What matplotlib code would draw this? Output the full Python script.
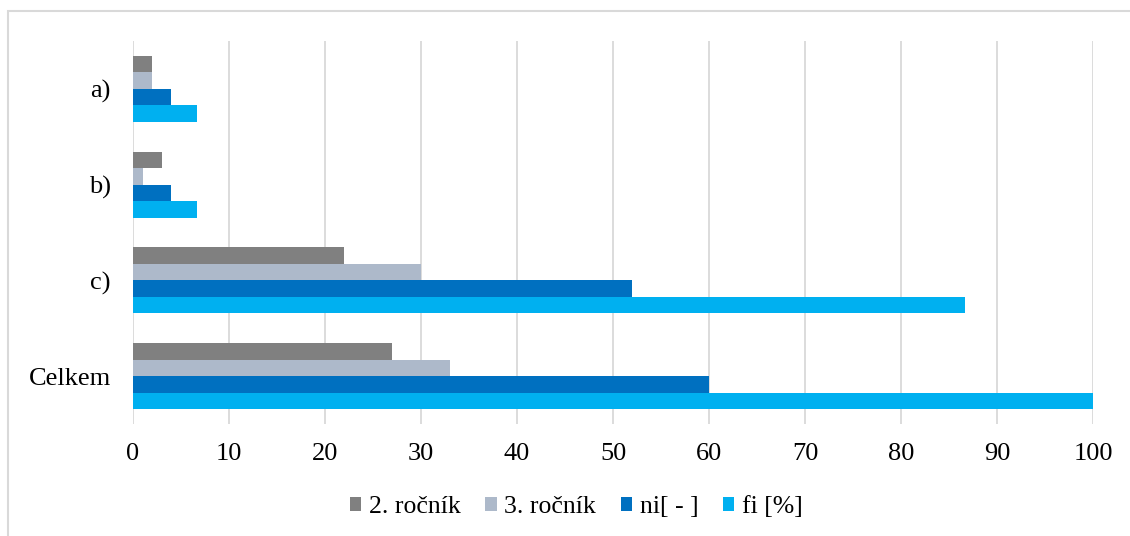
import numpy as np
from matplotlib import pyplot as plt
from matplotlib.patches import Rectangle

# data
categories = ['a)', 'b)', 'c)', 'Celkem']
rocnik2 = [2, 3, 22, 27]
rocnik3 = [2, 1, 30, 33]
ni = [4, 4, 52, 60]
fi = [6.67, 6.67, 86.67, 100]
series_names = ['2. ročník', '3. ročník', 'ni[ - ]', 'fi [%]']
colors = ['#808080', '#ADB9CA', '#0070C0', '#00B0F0']

plt.rcParams['font.family'] = ['Liberation Serif', 'DejaVu Serif']

fig = plt.figure(figsize=(11.3, 5.36), dpi=100)
ax = fig.add_axes([133 / 1130, 1 - 424 / 536, 960 / 1130, 383 / 536])

# outer chart frame (cut off at the right and bottom)
fig.patches.append(Rectangle((8 / 1130, -0.1), 1.2, 1.1 - 11 / 536,
                             transform=fig.transFigure, fill=False,
                             edgecolor='#D9D9D9', linewidth=1.5))

y = np.arange(len(categories))
h = 0.172
series = [rocnik2, rocnik3, ni, fi]
for i, (vals, name, c) in enumerate(zip(series, series_names, colors)):
    ax.barh(y + (i - 1.5) * h, vals, height=h, color=c, label=name, zorder=3)

ax.set_xlim(0, 100)
ax.set_ylim(3.5, -0.5)
ax.set_xticks(np.arange(0, 101, 10))
ax.set_yticks(y)
ax.set_yticklabels(categories)
ax.grid(axis='x', color='#D9D9D9', linewidth=1.3, zorder=0)
for s in ax.spines.values():
    s.set_visible(False)
ax.tick_params(axis='both', length=0, labelsize=19, colors='black')
ax.tick_params(axis='y', pad=16)
ax.tick_params(axis='x', pad=14)

fig.legend(loc='center', bbox_to_anchor=(0.51, 1 - 507 / 536), ncol=4,
           frameon=False, fontsize=18.5, handlelength=0.45, handleheight=0.45,
           handletextpad=0.3, columnspacing=0.95)

plt.savefig('out.png', dpi=100)
